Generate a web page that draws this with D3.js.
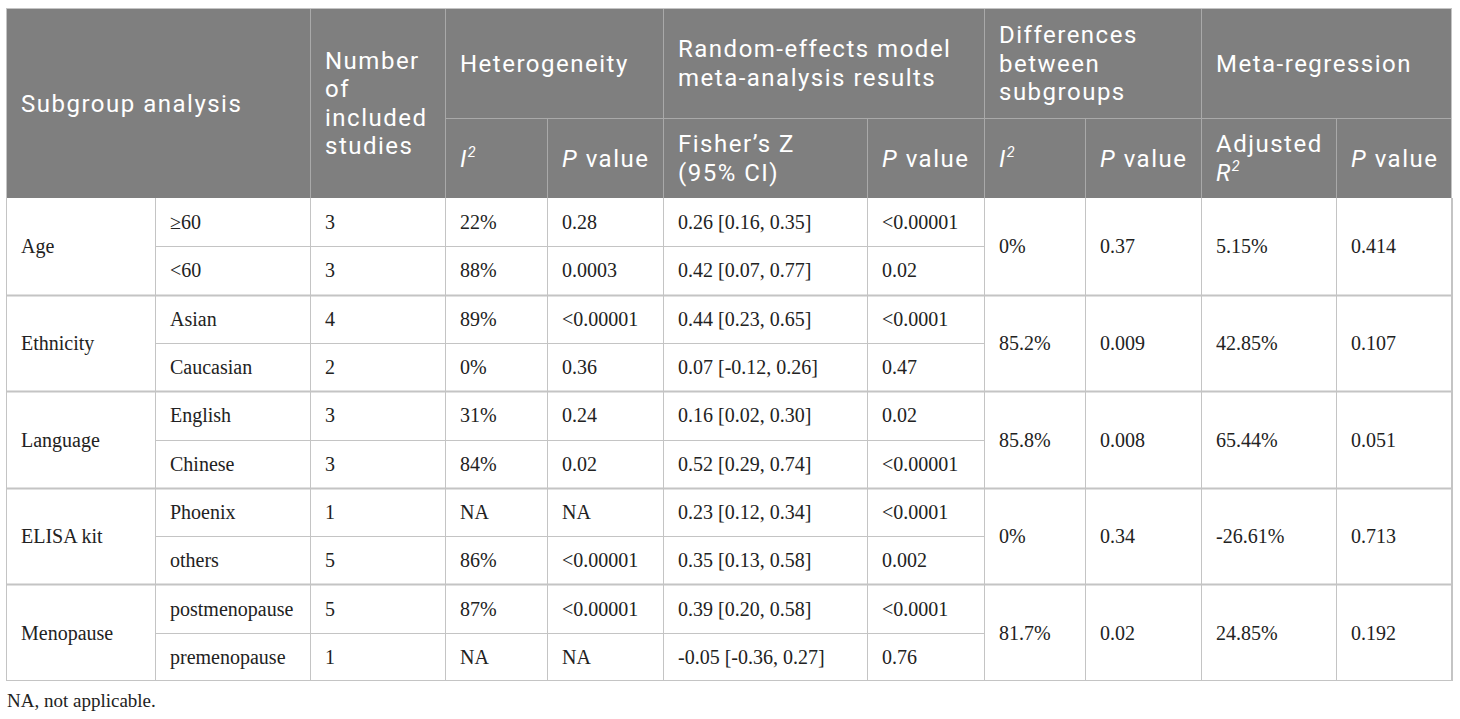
<!DOCTYPE html>
<html>
<head>
<meta charset="utf-8">
<script src="https://cdn.jsdelivr.net/npm/d3@7"></script>
<style>
  body { margin: 0; background: #fff; }
  svg { display: block; }
</style>
</head>
<body>
<div id="table-wrapper"></div>
<script>
// table content, one array per column
var groups     = ['Age', 'Ethnicity', 'Language', 'ELISA kit', 'Menopause'];
var subgroups  = ['\u226560', '<60', 'Asian', 'Caucasian', 'English', 'Chinese',
                  'Phoenix', 'others', 'postmenopause', 'premenopause'];
var n_studies  = ['3', '3', '4', '2', '3', '3', '1', '5', '5', '1'];
var het_i2     = ['22%', '88%', '89%', '0%', '31%', '84%', 'NA', '86%', '87%', 'NA'];
var het_p      = ['0.28', '0.0003', '<0.00001', '0.36', '0.24', '0.02', 'NA', '<0.00001', '<0.00001', 'NA'];
var fisher_z   = ['0.26 [0.16, 0.35]', '0.42 [0.07, 0.77]', '0.44 [0.23, 0.65]', '0.07 [-0.12, 0.26]',
                  '0.16 [0.02, 0.30]', '0.52 [0.29, 0.74]', '0.23 [0.12, 0.34]', '0.35 [0.13, 0.58]',
                  '0.39 [0.20, 0.58]', '-0.05 [-0.36, 0.27]'];
var re_p       = ['<0.00001', '0.02', '<0.0001', '0.47', '0.02', '<0.00001', '<0.0001', '0.002', '<0.0001', '0.76'];
// one value per group (these cells span both rows of a group)
var diff_i2    = ['0%', '85.2%', '85.8%', '0%', '81.7%'];
var diff_p     = ['0.37', '0.009', '0.008', '0.34', '0.02'];
var adj_r2     = ['5.15%', '42.85%', '65.44%', '-26.61%', '24.85%'];
var meta_p     = ['0.414', '0.107', '0.051', '0.713', '0.192'];
var footnote   = 'NA, not applicable.';

// header labels: lines of [text, style] segments (i = italic, s = superscript)
var header_top = [
    {col: 0, rows: 2, lines: [[['Subgroup analysis']]]},
    {col: 2, rows: 2, lines: [[['Number']], [['of']], [['included']], [['studies']]]},
    {col: 3, rows: 1, lines: [[['Heterogeneity']]]},
    {col: 5, rows: 1, lines: [[['Random-effects model']], [['meta-analysis results']]]},
    {col: 7, rows: 1, lines: [[['Differences']], [['between']], [['subgroups']]]},
    {col: 9, rows: 1, lines: [[['Meta-regression']]]}
];
var header_sub = [
    {col: 3, lines: [[['I', 'i'], ['2', 's']]]},
    {col: 4, lines: [[['P', 'i'], [' value']]]},
    {col: 5, lines: [[['Fisher\u2019s Z']], [['(95% CI)']]]},
    {col: 6, lines: [[['P', 'i'], [' value']]]},
    {col: 7, lines: [[['I', 'i'], ['2', 's']]]},
    {col: 8, lines: [[['P', 'i'], [' value']]]},
    {col: 9, lines: [[['Adjusted']], [['R', 'i'], ['2', 's']]]},
    {col: 10, lines: [[['P', 'i'], [' value']]]}
];

// layout
var width = 1460, height = 719;
var col_edges = [6, 155, 310, 445, 547, 663, 867, 984, 1085, 1201, 1336, 1452];
var head_top = 8, head_mid = 118, head_bottom = 198, body_bottom = 681;
var pad = 15;
var head_font = 'Roboto, sans-serif', head_size = 24, head_line = 28.5, head_track = 1.5;
var body_font = '"Liberation Serif", "Times New Roman", serif', body_size = 20;

var svg = d3.select('#table-wrapper').append('svg')
    .attr('width', width)
    .attr('height', height);

var scale_row = d3.scaleBand()
    .domain(d3.range(subgroups.length))
    .range([head_bottom, body_bottom]);
var row_h = scale_row.bandwidth();

var x0 = function(c) { return col_edges[c]; };

// header background
svg.append('rect')
    .attr('x', x0(0)).attr('y', head_top)
    .attr('width', x0(11) - x0(0)).attr('height', head_bottom - head_top)
    .attr('fill', '#7f7f7f');

// one text element per header cell, lines as tspans
var write_cell = function(g, x, y_center, lines) {
    var first = y_center - (lines.length - 1) * head_line / 2;
    var t = g.append('text')
        .attr('dominant-baseline', 'central')
        .attr('fill', '#fff')
        .style('font-family', head_font)
        .style('font-size', head_size + 'px')
        .style('letter-spacing', head_track + 'px');
    lines.forEach(function(line, i) {
        var raised = false;
        line.forEach(function(seg, j) {
            var span = t.append('tspan').text(seg[0]);
            if (j === 0) span.attr('x', x).attr('y', first + i * head_line);
            if (seg[1] === 'i') span.style('font-style', 'italic');
            if (seg[1] === 's') {
                span.style('font-style', 'italic').style('font-size', (head_size * 0.6) + 'px')
                    .attr('dy', -7);
                raised = true;
            } else if (raised) {
                span.attr('dy', 7);
                raised = false;
            }
        });
    });
};

var head = svg.append('g').attr('class', 'header');
header_top.forEach(function(h) {
    var y1 = h.rows === 2 ? head_bottom : head_mid;
    write_cell(head, x0(h.col) + pad, (head_top + y1) / 2 + 0.5, h.lines);
});
header_sub.forEach(function(h) {
    write_cell(head, x0(h.col) + pad, (head_mid + head_bottom) / 2 + 0.5, h.lines);
});

// header rules
var head_rule = '#a9a9a9';
var head_v = [
    {c: 2, y0: head_top, y1: head_bottom},
    {c: 3, y0: head_top, y1: head_bottom},
    {c: 4, y0: head_mid, y1: head_bottom},
    {c: 5, y0: head_top, y1: head_bottom},
    {c: 6, y0: head_mid, y1: head_bottom},
    {c: 7, y0: head_top, y1: head_bottom},
    {c: 8, y0: head_mid, y1: head_bottom},
    {c: 9, y0: head_top, y1: head_bottom},
    {c: 10, y0: head_mid, y1: head_bottom}
];
head.selectAll('line.v')
    .data(head_v)
    .enter().append('line')
    .attr('x1', function(d) { return x0(d.c) + 0.5; })
    .attr('x2', function(d) { return x0(d.c) + 0.5; })
    .attr('y1', function(d) { return d.y0; })
    .attr('y2', function(d) { return d.y1; })
    .attr('stroke', head_rule);
head.append('line')
    .attr('x1', x0(3)).attr('x2', x0(11))
    .attr('y1', head_mid + 0.5).attr('y2', head_mid + 0.5)
    .attr('stroke', head_rule);

// body
var body = svg.append('g').attr('class', 'body');
var rule = '#c4c4c4';

// row lines: within-group lines skip the spanning columns
subgroups.forEach(function(s, i) {
    if (i === 0) return;
    var y = Math.round(scale_row(i)) + 0.5;
    if (i % 2 === 1) {
        body.append('line')
            .attr('x1', x0(1)).attr('x2', x0(7))
            .attr('y1', y).attr('y2', y)
            .attr('stroke', rule);
    } else {
        body.append('line')
            .attr('x1', x0(0)).attr('x2', x0(11))
            .attr('y1', y).attr('y2', y)
            .attr('stroke', rule).attr('stroke-width', 2);
    }
});
// column lines
col_edges.forEach(function(x) {
    body.append('line')
        .attr('x1', x + 0.5).attr('x2', x + 0.5)
        .attr('y1', head_bottom).attr('y2', body_bottom)
        .attr('stroke', rule);
});
// outer border
svg.append('rect')
    .attr('x', x0(0) + 0.5).attr('y', head_top + 0.5)
    .attr('width', x0(11) - x0(0) - 1).attr('height', body_bottom - head_top - 1)
    .attr('fill', 'none')
    .attr('stroke', rule);

var body_text = function(sel) {
    return sel.attr('dominant-baseline', 'central')
        .attr('fill', '#222')
        .style('font-family', body_font)
        .style('font-size', body_size + 'px')
        .text(function(d) { return d; });
};

// per-row columns
[subgroups, n_studies, het_i2, het_p, fisher_z, re_p].forEach(function(values, k) {
    body.append('g').selectAll('text')
        .data(values)
        .enter().append('text')
        .attr('x', x0(k + 1) + pad)
        .attr('y', function(d, i) { return scale_row(i) + row_h / 2; })
        .call(body_text);
});

// per-group columns (span two rows)
var group_y = function(d, g) { return scale_row(g * 2) + row_h; };
[[groups, 0], [diff_i2, 7], [diff_p, 8], [adj_r2, 9], [meta_p, 10]].forEach(function(p) {
    body.append('g').selectAll('text')
        .data(p[0])
        .enter().append('text')
        .attr('x', x0(p[1]) + pad)
        .attr('y', group_y)
        .call(body_text);
});

svg.append('text')
    .attr('x', x0(0) + 1)
    .attr('y', 707)
    .attr('fill', '#222')
    .style('font-family', body_font)
    .style('font-size', '19px')
    .text(footnote);
</script>
</body>
</html>
